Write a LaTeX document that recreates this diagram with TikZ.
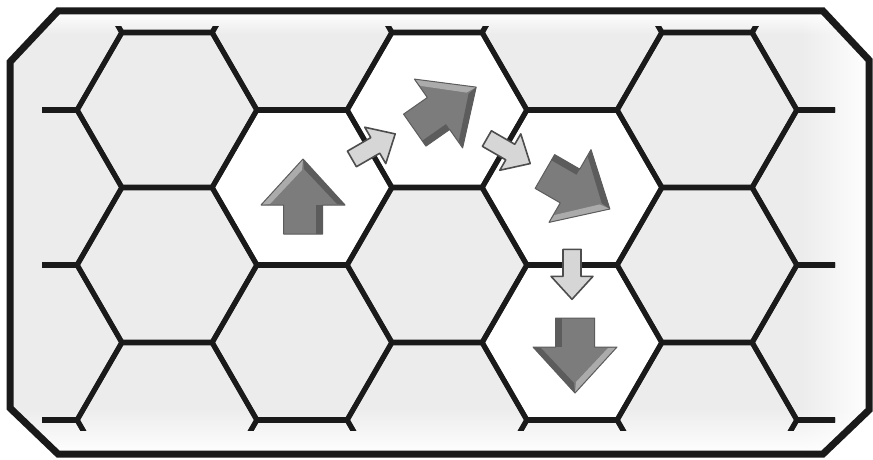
\documentclass[tikz,border=0pt]{standalone}
\usepackage{tikz}
\usetikzlibrary{calc,fadings}
\definecolor{HexLine}{HTML}{1A1A1A}
\definecolor{HexGray}{HTML}{ECECEC}
\definecolor{ArrowMid}{HTML}{7C7C7C}
\definecolor{ArrowLight}{HTML}{ABABAB}
\definecolor{ArrowDark}{HTML}{5C5C5C}
\definecolor{StepFill}{HTML}{D6D6D6}
\definecolor{StepLine}{HTML}{4D4D4D}

\tikzfading[name=fadeeast, left color=transparent!100, right color=transparent!0]
\tikzfading[name=fadesouth, top color=transparent!100, bottom color=transparent!0]
\tikzfading[name=fadenorth, top color=transparent!0, bottom color=transparent!100]

\tikzset{
  hexline/.style={draw=HexLine, line width=5pt},
  boardframe/.style={draw=HexLine, line width=7pt, line join=miter},
  pics/bigarrow/.style={code={
    \fill[ArrowMid] (-29,-19.5) -- (0,-19.5) -- (0,-42) -- (46,0) -- (0,42) -- (0,19.5) -- (-29,19.5) -- cycle;
    \fill[ArrowLight] (46,0) -- (0,42) -- (1,33) -- (35,1) -- cycle;
    \fill[ArrowDark] (46,0) -- (0,-42) -- (1,-34) -- (36,-1) -- cycle;
    \fill[ArrowDark] (-29,-19.5) rectangle (0,-13);
    \draw[ArrowDark, line width=1pt, line join=round] (-29,-19.5) -- (0,-19.5) -- (0,-42) -- (46,0) -- (0,42) -- (0,19.5) -- (-29,19.5) -- cycle;
  }},
  pics/steparrow/.style={code={
    \draw[fill=StepFill, draw=StepLine, line width=1.6pt, line join=round]
      (-25,-9) -- (2,-9) -- (2,-21) -- (25,0) -- (2,21) -- (2,9) -- (-25,9) -- cycle;
  }},
}

\begin{document}
\begin{tikzpicture}[x=1pt,y=1pt]
\useasboundingbox (0,0) rectangle (873,459);
\fill[white] (0,0) rectangle (873,459);

% hexes on the route
\coordinate (hexUp) at (302,271.5);
\coordinate (hexUR) at (437,349);
\coordinate (hexDR) at (572,271.5);
\coordinate (hexDn) at (572,116.5);

% board
\fill[HexGray] (58,448) -- (823,448) -- (869,399) -- (869,49) -- (823,5) -- (58,5) -- (10,51) -- (10,397) -- cycle;
\fill[white, path fading=fadeeast, fit fading=true] (800,5) rectangle (869,448);
\fill[white, path fading=fadesouth, fit fading=true] (10,5) rectangle (869,52);
\fill[white, path fading=fadenorth, fit fading=true] (10,424) rectangle (869,448);

\foreach \c in {hexUp,hexUR,hexDR,hexDn}
  \fill[white, shift={(\c)}] (0:90) -- (60:90) -- (120:90) -- (180:90) -- (240:90) -- (300:90) -- cycle;

% grid
\begin{scope}
  \clip (42,29) rectangle (835,432);
  \foreach \k in {-1,...,5}
    \foreach \j in {-1,...,2} {
      \pgfmathsetmacro\hx{167+135*\k}
      \pgfmathsetmacro\hy{349-77.5*mod(\k+2,2)-155*\j}
      \draw[hexline, shift={(\hx,\hy)}] (0:90) -- (60:90) -- (120:90) -- (180:90) -- (240:90) -- (300:90) -- cycle;
    }
\end{scope}

% moves
\pic[rotate=90] at ($(hexUp)+(1,-17.5)$) {bigarrow};
\pic[rotate=35] at ($(hexUR)+(1.5,-3.5)$) {bigarrow};
\pic[rotate=-30, yscale=-1] at ($(hexDR)+(-2,1.5)$) {bigarrow};
\pic[rotate=-90] at ($(hexDn)+(3,-4.5)$) {bigarrow};

\pic[rotate=30] at ($(hexUp)!0.53!(hexUR)$) {steparrow};
\pic[rotate=-30] at ($(hexUR)!0.53!(hexDR)$) {steparrow};
\pic[rotate=-90] at ($(hexDR)!0.56!(hexDn)$) {steparrow};

\draw[boardframe] (58,448) -- (823,448) -- (869,399) -- (869,49) -- (823,5) -- (58,5) -- (10,51) -- (10,397) -- cycle;
\end{tikzpicture}
\end{document}
